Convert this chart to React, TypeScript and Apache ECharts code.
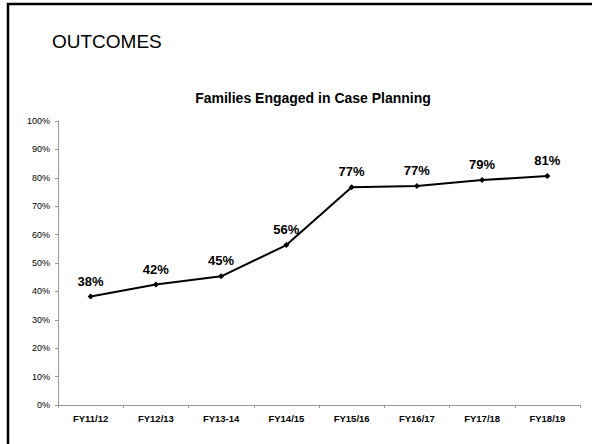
import React, { useEffect, useRef } from "react";
import * as echarts from "echarts";

const categories = ["FY11/12", "FY12/13", "FY13-14", "FY14/15", "FY15/16", "FY16/17", "FY17/18", "FY18/19"];
const values = [38.2, 42.4, 45.3, 56.3, 76.7, 77.1, 79.2, 80.6];
const pageTitle = "OUTCOMES";
const chartTitle = "Families Engaged in Case Planning";

const FONT = "'Liberation Sans', Arial, sans-serif";

export default function App() {
  const ref = useRef<HTMLDivElement>(null);
  useEffect(() => {
    const chart = echarts.init(ref.current!, null, { renderer: "svg" });
    chart.setOption({
      animation: false,
      backgroundColor: "#ffffff",
      graphic: [
        {
          type: "rect",
          shape: { x: 8, y: 4, width: 700, height: 600 },
          style: { fill: "none", stroke: "#000000", lineWidth: 2.5 },
          silent: true,
        },
        {
          type: "text",
          left: 52,
          top: 32,
          style: { text: pageTitle, fill: "#000000", font: "19px " + FONT },
        },
      ],
      title: {
        text: chartTitle,
        left: 308,
        textAlign: "center",
        top: 86,
        textStyle: { fontFamily: FONT, fontSize: 14, fontWeight: "bold", color: "#000000" },
      },
      grid: { left: 58, right: 12, top: 121, bottom: 39, containLabel: false },
      xAxis: {
        type: "category",
        data: categories,
        boundaryGap: true,
        axisLine: { lineStyle: { color: "#999999", width: 1 } },
        axisTick: { show: true, alignWithLabel: false, length: 3, lineStyle: { color: "#999999" } },
        axisLabel: {
          color: "#000000",
          fontFamily: FONT,
          fontSize: 9.5,
          fontWeight: "bold",
          margin: 8,
        },
      },
      yAxis: {
        type: "value",
        min: 0,
        max: 100,
        interval: 10,
        splitLine: { show: false },
        axisLine: { show: true, lineStyle: { color: "#999999", width: 1 } },
        axisTick: { show: true, length: 3, lineStyle: { color: "#999999" } },
        axisLabel: {
          formatter: "{value}%",
          color: "#000000",
          fontFamily: FONT,
          fontSize: 9,
          margin: 8,
        },
      },
      series: [
        {
          type: "line",
          data: values,
          symbol: "diamond",
          symbolSize: 6,
          itemStyle: { color: "#000000" },
          lineStyle: { color: "#000000", width: 2 },
          label: {
            show: true,
            position: "top",
            distance: 6,
            formatter: (p: any) => Math.round(p.value) + "%",
            color: "#000000",
            fontFamily: FONT,
            fontSize: 13,
            fontWeight: "bold",
          },
        },
      ],
    });
    return () => chart.dispose();
  }, []);
  return (
    <div
      ref={ref}
      style={{ position: "fixed", left: 0, top: 0, width: 592, height: 444 }}
    />
  );
}
